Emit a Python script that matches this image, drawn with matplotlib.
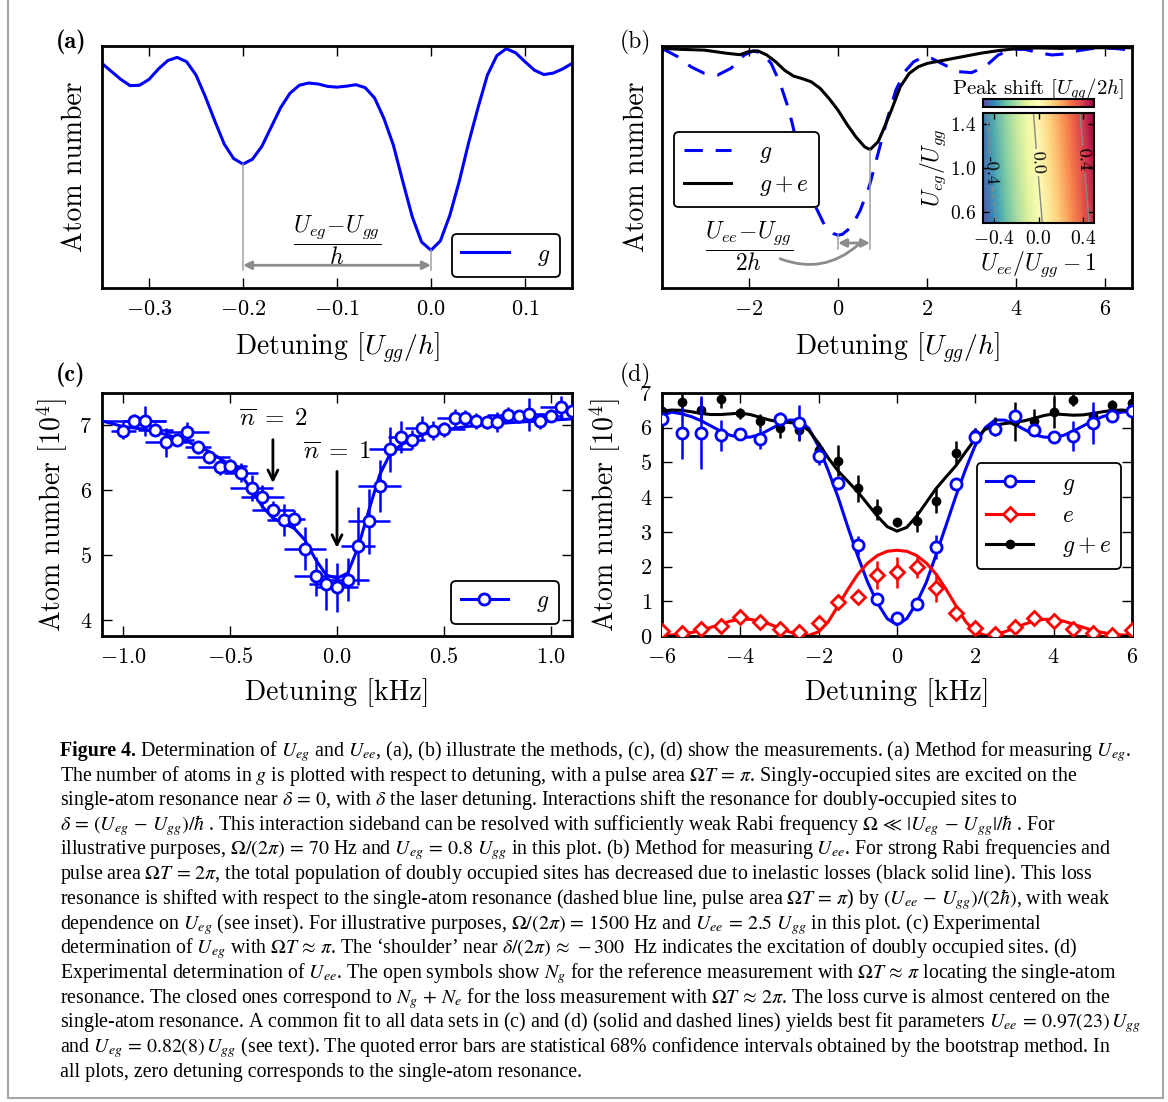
import numpy as np
import matplotlib
matplotlib.use("Agg")
import matplotlib.pyplot as plt
from matplotlib.lines import Line2D

# ------------------------------------------------------------------ data
# (a) illustrative U_eg measurement, atom number in g (arbitrary units)
a_detuning = np.linspace(-0.35, 0.15, 51)
a_atoms = [0.928, 0.895, 0.862, 0.836, 0.838, 0.862, 0.905, 0.940, 0.953, 0.935,
           0.880, 0.790, 0.690, 0.595, 0.535, 0.512, 0.532, 0.585, 0.665, 0.745,
           0.805, 0.838, 0.847, 0.843, 0.833, 0.830, 0.834, 0.840, 0.828, 0.785,
           0.700, 0.590, 0.440, 0.295, 0.190, 0.156, 0.195, 0.300, 0.440, 0.600,
           0.745, 0.880, 0.960, 0.989, 0.972, 0.935, 0.900, 0.882, 0.888, 0.905,
           0.928]
a_resonances = [-0.2, 0.0]

# (b) illustrative U_ee measurement
b_g_detuning = [-3.95, -3.6, -3.3, -3.0, -2.7, -2.4, -2.1, -1.9, -1.7, -1.5,
                -1.3, -1.1, -0.9, -0.7, -0.5, -0.3, -0.1, 0.0, 0.1, 0.3,
                0.5, 0.7, 0.9, 1.1, 1.3, 1.5, 1.7, 1.9, 2.1, 2.4,
                2.7, 3.0, 3.3, 3.6, 3.9, 4.2, 4.5, 4.8, 5.1, 5.4,
                5.8, 6.2, 6.6]
b_g_atoms = [0.99, 0.956, 0.914, 0.887, 0.880, 0.908, 0.963, 0.98, 0.97, 0.928,
             0.846, 0.735, 0.583, 0.446, 0.335, 0.259, 0.225, 0.218, 0.222, 0.252,
             0.321, 0.418, 0.556, 0.694, 0.818, 0.894, 0.935, 0.953, 0.949, 0.921,
             0.894, 0.890, 0.914, 0.963, 0.986, 0.986, 0.972, 0.963, 0.967, 0.981,
             0.992, 0.99, 0.983]
b_ge_detuning = [-3.95, -3.5, -3.0, -2.5, -2.2, -2.0, -1.8, -1.6, -1.4, -1.2,
                 -1.0, -0.8, -0.6, -0.4, -0.2, 0.0, 0.2, 0.4, 0.6, 0.72,
                 0.9, 1.0, 1.2, 1.4, 1.6, 1.8, 2.0, 2.4, 2.8, 3.2,
                 3.6, 4.0, 4.5, 5.0, 5.5, 6.0, 6.6]
b_ge_atoms = [0.99, 0.986, 0.983, 0.97, 0.964, 0.977, 0.98, 0.963, 0.935, 0.90,
              0.876, 0.865, 0.852, 0.825, 0.783, 0.735, 0.677, 0.625, 0.583, 0.572,
              0.604, 0.646, 0.735, 0.832, 0.887, 0.914, 0.928, 0.942, 0.956, 0.97,
              0.981, 0.989, 0.992, 0.99, 0.992, 0.993, 0.993]
b_resonances = [0.0, 0.72]

# (b) inset: peak shift [U_gg/2h]
inset_uee = [-0.5, -0.4, -0.3, -0.2, -0.1, 0.0, 0.1, 0.2, 0.3, 0.4, 0.5]
inset_ueg = [0.5, 1.0, 1.5]
inset_shift_ueg05 = [-0.508, -0.413, -0.318, -0.223, -0.128, -0.033, 0.062, 0.157, 0.252, 0.347, 0.442]
inset_shift_ueg10 = [-0.468, -0.373, -0.278, -0.183, -0.088, 0.007, 0.102, 0.197, 0.292, 0.387, 0.482]
inset_shift_ueg15 = [-0.433, -0.338, -0.243, -0.148, -0.052, 0.043, 0.138, 0.233, 0.328, 0.424, 0.519]
inset_levels = [-0.4, 0.0, 0.4]

# (c) measurement of U_eg
c_detuning = np.round(np.linspace(-1.0, 1.1, 43), 2)
c_atoms = [6.92, 7.07, 7.07, 6.93, 6.74, 6.78, 6.90, 6.66, 6.52, 6.36,
           6.38, 6.27, 6.04, 5.90, 5.69, 5.54, 5.55, 5.10, 4.67, 4.55,
           4.50, 4.62, 5.14, 5.52, 6.07, 6.63, 6.82, 6.78, 6.96, 6.92,
           6.94, 7.11, 7.11, 7.07, 7.05, 7.05, 7.16, 7.14, 7.17, 7.07,
           7.15, 7.28, 7.22]
c_atoms_err = [0.13, 0.10, 0.23, 0.10, 0.22, 0.08, 0.15, 0.10, 0.08, 0.12,
               0.10, 0.15, 0.20, 0.18, 0.15, 0.25, 0.15, 0.33, 0.30, 0.40,
               0.38, 0.33, 0.60, 0.50, 0.40, 0.35, 0.25, 0.15, 0.18, 0.15,
               0.12, 0.15, 0.12, 0.12, 0.10, 0.15, 0.12, 0.10, 0.25, 0.12,
               0.10, 0.18, 0.15]
c_detuning_err = [0.06, 0.15, 0.10, 0.08, 0.10, 0.08, 0.10, 0.06, 0.10, 0.10,
                  0.08, 0.08, 0.10, 0.10, 0.10, 0.08, 0.05, 0.10, 0.10, 0.08,
                  0.10, 0.10, 0.08, 0.10, 0.10, 0.10, 0.06, 0.06, 0.08, 0.06,
                  0.10, 0.08, 0.06, 0.10, 0.10, 0.06, 0.10, 0.06, 0.10, 0.06,
                  0.06, 0.10, 0.06]
c_fit_detuning = [-1.1, -1.0, -0.9, -0.8, -0.7, -0.6, -0.5, -0.45, -0.4, -0.35,
                  -0.3, -0.25, -0.2, -0.15, -0.1, -0.05, 0.0, 0.05, 0.1, 0.15,
                  0.2, 0.25, 0.3, 0.4, 0.5, 0.6, 0.8, 1.0, 1.1]
c_fit_atoms = [7.07, 6.98, 6.94, 6.86, 6.75, 6.60, 6.39, 6.24, 6.01, 5.75,
               5.57, 5.49, 5.41, 5.23, 4.93, 4.69, 4.64, 4.72, 5.13, 5.70,
               6.24, 6.57, 6.70, 6.86, 6.93, 6.98, 7.04, 7.08, 7.10]
c_arrow_labels = [r'$\overline{n}\;=\;2$', r'$\overline{n}\;=\;1$']
c_arrow_detuning = [-0.3, 0.0]

# (d) measurement of U_ee
d_detuning = np.linspace(-6.0, 6.0, 25)
d_g = [6.24, 5.85, 5.85, 5.78, 5.83, 5.68, 6.24, 6.14, 5.19, 4.42,
       2.61, 1.07, 0.52, 0.93, 2.56, 4.39, 5.73, 5.97, 6.35, 5.92,
       5.72, 5.77, 6.14, 6.35, 6.47]
d_g_err = [0.10, 0.75, 1.05, 0.45, 0.10, 0.30, 0.20, 0.50, 0.27, 0.10,
           0.27, 0.10, 0.08, 0.10, 0.34, 0.10, 0.25, 0.10, 0.12, 0.10,
           0.08, 0.43, 0.60, 0.10, 0.10]
d_e = [0.13, 0.08, 0.19, 0.30, 0.55, 0.40, 0.19, 0.12, 0.37, 0.98,
       1.13, 1.75, 1.83, 1.98, 1.39, 0.66, 0.24, 0.06, 0.27, 0.52,
       0.44, 0.21, 0.08, 0.03, 0.16]
d_e_err = [0.05, 0.05, 0.05, 0.05, 0.08, 0.05, 0.05, 0.05, 0.08, 0.10,
           0.10, 0.40, 0.45, 0.30, 0.42, 0.10, 0.05, 0.05, 0.05, 0.08,
           0.05, 0.05, 0.05, 0.05, 0.05]
d_ge = [6.49, 6.73, 6.51, 6.83, 6.41, 6.20, 5.99, 5.93, 5.36, 5.05,
        4.25, 3.64, 3.27, 3.31, 3.90, 5.27, 5.83, 6.03, 6.18, 6.20,
        6.45, 6.80, 6.35, 6.65, 6.72]
d_ge_err = [0.10, 0.25, 0.35, 0.25, 0.15, 0.20, 0.30, 0.30, 0.20, 0.45,
            0.38, 0.30, 0.12, 0.30, 0.35, 0.35, 0.15, 0.27, 0.55, 0.35,
            0.45, 0.17, 0.15, 0.15, 0.20]
d_fit_detuning = np.linspace(-6.0, 6.0, 49)
d_fit_g = [6.35, 6.45, 6.40, 6.32, 6.20, 6.05, 5.90, 5.78, 5.72, 5.73,
           5.80, 5.95, 6.10, 6.22, 6.22, 5.98, 5.45, 4.75, 3.98, 3.12,
           2.30, 1.55, 0.95, 0.50, 0.32, 0.50, 0.95, 1.55, 2.35, 3.18,
           4.02, 4.80, 5.50, 6.00, 6.22, 6.22, 6.10, 5.95, 5.80, 5.73,
           5.72, 5.78, 5.90, 6.05, 6.20, 6.32, 6.40, 6.45, 6.47]
d_fit_e = [0.03, 0.03, 0.06, 0.10, 0.16, 0.25, 0.34, 0.43, 0.48, 0.48,
           0.43, 0.34, 0.23, 0.12, 0.04, 0.02, 0.12, 0.42, 0.88, 1.35,
           1.78, 2.10, 2.32, 2.44, 2.47, 2.44, 2.32, 2.10, 1.78, 1.35,
           0.88, 0.42, 0.12, 0.02, 0.04, 0.12, 0.23, 0.34, 0.43, 0.48,
           0.48, 0.43, 0.34, 0.25, 0.16, 0.10, 0.06, 0.03, 0.03]
d_fit_ge = [6.48, 6.51, 6.50, 6.46, 6.41, 6.38, 6.38, 6.40, 6.42, 6.38,
            6.30, 6.22, 6.17, 6.15, 6.12, 5.92, 5.55, 5.12, 4.75, 4.45,
            4.15, 3.80, 3.45, 3.15, 3.02, 3.13, 3.45, 3.85, 4.25, 4.58,
            4.90, 5.30, 5.68, 5.95, 6.07, 6.12, 6.15, 6.20, 6.27, 6.35,
            6.40, 6.38, 6.36, 6.37, 6.41, 6.46, 6.50, 6.51, 6.48]

caption_lines = [
    r"Determination of $U_{eg}$ and $U_{ee}$, (a), (b) illustrate the methods, (c), (d) show the measurements. (a) Method for measuring $U_{eg}$.",
    r"The number of atoms in $g$ is plotted with respect to detuning, with a pulse area $\Omega T\,=\,\pi$. Singly-occupied sites are excited on the",
    r"single-atom resonance near $\delta\,=\,0$, with $\delta$ the laser detuning. Interactions shift the resonance for doubly-occupied sites to",
    r"$\delta\,=\,(U_{eg}\,-\,U_{gg})/\hbar$ . This interaction sideband can be resolved with sufficiently weak Rabi frequency $\Omega\,\ll\,|U_{eg}\,-\,U_{gg}|/\hbar$ . For",
    r"illustrative purposes, $\Omega/(2\pi)\,=\,70$ Hz and $U_{eg}\,=\,0.8\ U_{gg}$ in this plot. (b) Method for measuring $U_{ee}$. For strong Rabi frequencies and",
    r"pulse area $\Omega T\,=\,2\pi$, the total population of doubly occupied sites has decreased due to inelastic losses (black solid line). This loss",
    r"resonance is shifted with respect to the single-atom resonance (dashed blue line, pulse area $\Omega T\,=\,\pi$) by $(U_{ee}\,-\,U_{gg})/(2\hbar)$, with weak",
    r"dependence on $U_{eg}$ (see inset). For illustrative purposes, $\Omega/(2\pi)\,=\,1500$ Hz and $U_{ee}\,=\,2.5\ U_{gg}$ in this plot. (c) Experimental",
    r"determination of $U_{eg}$ with $\Omega T\,\approx\,\pi$. The ‘shoulder’ near $\delta/(2\pi)\,\approx\,-300$  Hz indicates the excitation of doubly occupied sites. (d)",
    r"Experimental determination of $U_{ee}$. The open symbols show $N_g$ for the reference measurement with $\Omega T\,\approx\,\pi$ locating the single-atom",
    r"resonance. The closed ones correspond to $N_g\,+\,N_e$ for the loss measurement with $\Omega T\,\approx\,2\pi$. The loss curve is almost centered on the",
    r"single-atom resonance. A common fit to all data sets in (c) and (d) (solid and dashed lines) yields best fit parameters $U_{ee}\,=\,0.97(23)\,U_{gg}$",
    r"and $U_{eg}\,=\,0.82(8)\,U_{gg}$ (see text). The quoted error bars are statistical 68% confidence intervals obtained by the bootstrap method. In",
    r"all plots, zero detuning corresponds to the single-atom resonance.",
]

# ------------------------------------------------------------------ style
W, H = 1168, 1102
plt.rcParams.update({
    'font.family': ['cmr10'],
    'mathtext.fontset': 'cm',
    'axes.formatter.use_mathtext': True,
    'axes.unicode_minus': True,
    'xtick.direction': 'in', 'ytick.direction': 'in',
    'xtick.top': True, 'ytick.right': True,
    'xtick.major.size': 7, 'ytick.major.size': 7,
    'xtick.major.width': 1, 'ytick.major.width': 1,
    'xtick.major.pad': 8, 'ytick.major.pad': 7,
    'axes.linewidth': 2,
    'xtick.labelsize': 16, 'ytick.labelsize': 16,
    'axes.labelsize': 20,
    'legend.fontsize': 17,
    'legend.fancybox': True,
    'legend.framealpha': 1,
    'legend.edgecolor': 'black',
})

fig = plt.figure(figsize=(W / 100, H / 100), dpi=100, facecolor='white')


def rect(x0, y0, x1, y1):
    return [x0 / W, 1 - y1 / H, (x1 - x0) / W, (y1 - y0) / H]


axA = fig.add_axes(rect(102, 46, 572, 288))
axB = fig.add_axes(rect(662, 46, 1132, 288))
axC = fig.add_axes(rect(102, 393, 572, 636))
axD = fig.add_axes(rect(662, 393, 1132, 636))

GRAY = '#8c8c8c'
BLUE = '#0000ff'
RED = '#ff0000'


def style_legend(leg):
    fr = leg.get_frame()
    fr.set_linewidth(1.3)
    fr.set_edgecolor('black')


# ------------------------------------------------------------------ (a)
axA.plot(a_detuning, a_atoms, color=BLUE, lw=2.2)
axA.set_xlim(-0.35, 0.15)
axA.set_ylim(0, 1)
axA.set_xticks([-0.3, -0.2, -0.1, 0.0, 0.1])
axA.set_yticks([])
for xr in a_resonances:
    yr = np.interp(xr, a_detuning, a_atoms)
    axA.plot([xr, xr], [0.076, yr], color='#a0a0a0', lw=1.1)
axA.annotate('', xy=(a_resonances[1], 0.094), xytext=(a_resonances[0], 0.094),
             arrowprops=dict(arrowstyle='<|-|>', color=GRAY, lw=2,
                             shrinkA=0, shrinkB=0, mutation_scale=12))
axA.text(np.mean(a_resonances), 0.197, r'$\dfrac{U_{eg}\!-\!U_{gg}}{h}$',
         ha='center', va='center', fontsize=17)
axA.set_xlabel(r'Detuning [$U_{gg}/h$]')
axA.set_ylabel('Atom number')
axA.xaxis.set_label_coords(0.5, -0.175)
axA.yaxis.set_label_coords(-0.03, 0.5)
legA = axA.legend(handles=[Line2D([], [], color=BLUE, lw=2.2, label='$g$')],
                  loc='lower right', bbox_to_anchor=(0.974, 0.045),
                  borderaxespad=0, handlelength=2.0, handletextpad=1.2)
style_legend(legA)

# ------------------------------------------------------------------ (b)
axB.plot(b_g_detuning, b_g_atoms, color=BLUE, lw=2.2, dashes=(6, 4.2))
axB.plot(b_ge_detuning, b_ge_atoms, color='black', lw=2.2)
axB.set_xlim(-3.95, 6.6)
axB.set_ylim(0, 1)
axB.set_xticks([-2, 0, 2, 4, 6])
axB.set_yticks([])
ymins = [np.interp(b_resonances[0], b_g_detuning, b_g_atoms),
         np.interp(b_resonances[1], b_ge_detuning, b_ge_atoms)]
for xr, yr in zip(b_resonances, ymins):
    axB.plot([xr, xr], [0.163, yr], color='#a0a0a0', lw=1.1)
axB.annotate('', xy=(b_resonances[1], 0.186), xytext=(b_resonances[0], 0.186),
             arrowprops=dict(arrowstyle='<|-|>', color=GRAY, lw=2,
                             shrinkA=0, shrinkB=0, mutation_scale=12))
axB.annotate('', xy=(0.45, 0.178), xytext=(-1.3, 0.121),
             arrowprops=dict(arrowstyle='-', color=GRAY, lw=2,
                             connectionstyle='arc3,rad=0.3', shrinkA=0, shrinkB=0))
axB.text(-2.0, 0.174, r'$\dfrac{U_{ee}\!-\!U_{gg}}{2h}$', ha='center', va='center', fontsize=17)
axB.set_xlabel(r'Detuning [$U_{gg}/h$]')
axB.set_ylabel('Atom number')
axB.xaxis.set_label_coords(0.5, -0.175)
axB.yaxis.set_label_coords(-0.026, 0.5)
legB = axB.legend(handles=[Line2D([], [], color=BLUE, lw=2.2, dashes=(6, 4.2), label='$g$'),
                           Line2D([], [], color='black', lw=2.2, label='$g+e$')],
                  loc='upper left', bbox_to_anchor=(0.026, 0.645), borderaxespad=0,
                  handlelength=2.0, handletextpad=1.2, labelspacing=0.35)
style_legend(legB)

# inset
axI = fig.add_axes(rect(983, 113, 1094, 223))
caxI = fig.add_axes(rect(983, 99, 1094, 107))
Z = np.array([inset_shift_ueg05, inset_shift_ueg10, inset_shift_ueg15])
pc = axI.pcolormesh(inset_uee, inset_ueg, Z, cmap='Spectral_r', shading='gouraud',
                    vmin=-0.52, vmax=0.52)
cs = axI.contour(inset_uee, inset_ueg, Z, levels=inset_levels, colors='#888888', linewidths=1)
clab = axI.clabel(cs, fmt=lambda v: f'{v:.1f}', fontsize=13, colors='black', inline=True,
                  inline_spacing=2, manual=[(-0.43, 0.98), (0.0, 1.05), (0.42, 1.08)])
for t in clab:
    t.set_rotation(-87)
axI.set_xlim(-0.5, 0.5)
axI.set_ylim(0.5, 1.5)
axI.set_xticks([-0.4, 0.0, 0.4])
axI.set_yticks([0.6, 1.0, 1.4])
axI.tick_params(which='both', direction='in', top=True, right=True, length=4,
                width=1, labelsize=14, pad=5)
for sp in axI.spines.values():
    sp.set_linewidth(1.5)
axI.set_xlabel(r'$U_{ee}/U_{gg}-1$', fontsize=17, labelpad=1)
axI.set_ylabel(r'$U_{eg}/U_{gg}$', fontsize=17, labelpad=1)
cb = fig.colorbar(pc, cax=caxI, orientation='horizontal')
cb.set_ticks([])
cb.outline.set_linewidth(1.5)
caxI.minorticks_off()
fig.text(1038 / W, 1 - 90 / H, r'Peak shift [$U_{gg}/2h$]', ha='center', va='center', fontsize=15)

# ------------------------------------------------------------------ (c)
axC.plot(c_fit_detuning, c_fit_atoms, color=BLUE, lw=2.2, zorder=2)
axC.errorbar(c_detuning, c_atoms, yerr=c_atoms_err, xerr=c_detuning_err, fmt='o',
             color=BLUE, mfc='white', mec=BLUE, mew=2, ms=8, elinewidth=1.8,
             capsize=0, zorder=3)
axC.set_xlim(-1.1, 1.1)
axC.set_ylim(3.75, 7.5)
axC.set_xticks([-1.0, -0.5, 0.0, 0.5, 1.0])
axC.set_yticks([4, 5, 6, 7])
for lab, xr, ytxt, y0, y1 in zip(c_arrow_labels, c_arrow_detuning,
                                 [7.09, 6.58], [6.78, 6.29], [6.11, 5.11]):
    axC.annotate('', xy=(xr, y1), xytext=(xr, y0),
                 arrowprops=dict(arrowstyle='->', color='black', lw=2,
                                 shrinkA=0, shrinkB=0, mutation_scale=18))
    axC.text(xr, ytxt, lab, ha='center', va='center', fontsize=18)
axC.set_xlabel('Detuning [kHz]')
axC.set_ylabel('Atom number [$10^4$]')
axC.xaxis.set_label_coords(0.5, -0.175)
axC.yaxis.set_label_coords(-0.068, 0.5)
legC = axC.legend(handles=[Line2D([], [], color=BLUE, lw=2.2, marker='o', mfc='white',
                                  mec=BLUE, mew=2, ms=8, label='$g$')],
                  loc='lower right', bbox_to_anchor=(0.972, 0.05), borderaxespad=0,
                  handlelength=2.0, handletextpad=1.2)
style_legend(legC)

# ------------------------------------------------------------------ (d)
axD.plot(d_fit_detuning, d_fit_g, color=BLUE, lw=2.2, zorder=2)
axD.plot(d_fit_detuning, d_fit_e, color=RED, lw=2.2, zorder=2)
axD.plot(d_fit_detuning, d_fit_ge, color='black', lw=2.2, zorder=2)
axD.errorbar(d_detuning, d_ge, yerr=d_ge_err, fmt='o', color='black', ms=6,
             elinewidth=1.8, capsize=0, zorder=3)
axD.errorbar(d_detuning, d_g, yerr=d_g_err, fmt='o', color=BLUE, mfc='white', mec=BLUE,
             mew=2, ms=8, elinewidth=1.8, capsize=0, zorder=4)
axD.errorbar(d_detuning, d_e, yerr=d_e_err, fmt='D', color=RED, mfc='white', mec=RED,
             mew=2, ms=7, elinewidth=1.8, capsize=0, zorder=4)
axD.set_xlim(-6, 6)
axD.set_ylim(0, 7)
axD.set_xticks([-6, -4, -2, 0, 2, 4, 6])
axD.set_yticks([0, 1, 2, 3, 4, 5, 6, 7])
axD.set_xlabel('Detuning [kHz]')
axD.set_ylabel('Atom number [$10^4$]')
axD.xaxis.set_label_coords(0.5, -0.175)
axD.yaxis.set_label_coords(-0.083, 0.5)
legD = axD.legend(handles=[
    Line2D([], [], color=BLUE, lw=2.2, marker='o', mfc='white', mec=BLUE, mew=2, ms=8, label='$g$'),
    Line2D([], [], color=RED, lw=2.2, marker='D', mfc='white', mec=RED, mew=2, ms=7, label='$e$'),
    Line2D([], [], color='black', lw=2.2, marker='o', ms=6, label='$g+e$')],
    loc='upper right', bbox_to_anchor=(0.977, 0.712), borderaxespad=0,
    handlelength=2.0, handletextpad=1.2, labelspacing=0.35)
style_legend(legD)

# ------------------------------------------------------------------ panel labels
fig.text(56 / W, 1 - 42 / H, '(a)', family='cmb10', fontsize=17.5, va='center')
fig.text(620 / W, 1 - 42 / H, '(b)', fontsize=17, va='center')
fig.text(56 / W, 1 - 375 / H, '(c)', family='cmb10', fontsize=17.5, va='center')
fig.text(620 / W, 1 - 375 / H, '(d)', fontsize=17, va='center')

# ------------------------------------------------------------------ frame
for xs, ys in [([8, 8], [0, 1098]), ([1163, 1163], [0, 1098]), ([8, 1163], [1098, 1098])]:
    fig.add_artist(Line2D([x / W for x in xs], [1 - y / H for y in ys],
                          transform=fig.transFigure, color='#a6a6a6', lw=1.5))

# ------------------------------------------------------------------ caption
renderer = fig.canvas.get_renderer()
CAP_LEFT, CAP_RIGHT, CAP_BASE0, CAP_STEP = 60, 1136, 756, 24.7


def draw_caption(fs):
    arts = []
    b = fig.text(CAP_LEFT / W, 1 - CAP_BASE0 / H, 'Figure 4.', fontsize=fs, fontweight='bold',
                 family='Liberation Serif', va='baseline')
    arts.append(b)
    bb = b.get_window_extent(renderer)
    for i, s in enumerate(caption_lines):
        x = (bb.x1 + 0.28 * fs) / W if i == 0 else CAP_LEFT / W
        t = fig.text(x, 1 - (CAP_BASE0 + i * CAP_STEP) / H, s, fontsize=fs,
                     family='Liberation Serif', math_fontfamily='stix', va='baseline')
        arts.append(t)
    return arts


fs0 = 13.0
arts = draw_caption(fs0)
widths = [a.get_window_extent(renderer).x1 - CAP_LEFT for a in arts[1:]]
scale = (CAP_RIGHT - CAP_LEFT) / max(widths)
for a in arts:
    a.remove()
draw_caption(fs0 * scale)

fig.savefig('out.png', dpi=100, facecolor='white')
